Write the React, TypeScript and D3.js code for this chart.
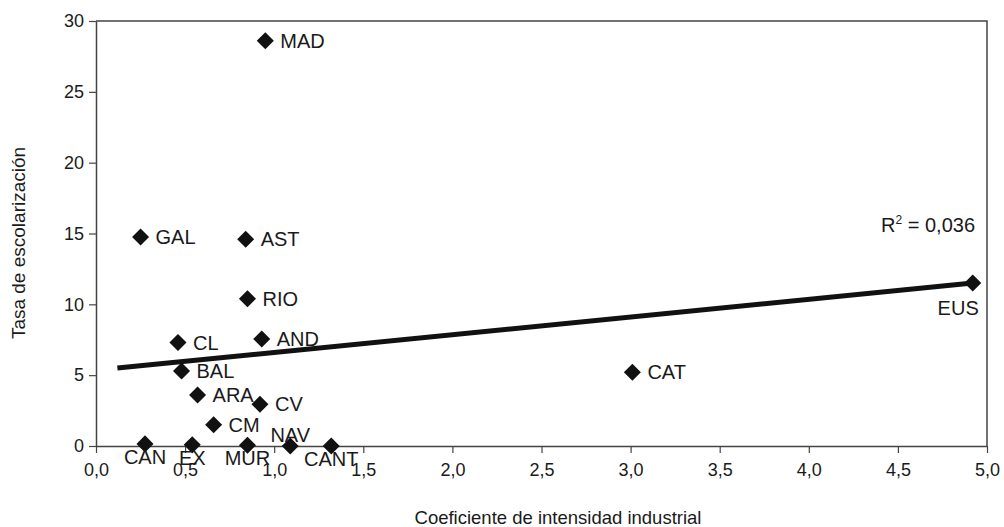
import React, { useEffect, useRef } from 'react';
import * as d3 from 'd3';

const regions = ['MAD', 'GAL', 'AST', 'RIO', 'CL', 'AND', 'BAL', 'ARA', 'CV', 'CM', 'CAN', 'EX', 'MUR', 'NAV', 'CANT', 'CAT', 'EUS'];
const intensidad = [0.95, 0.25, 0.84, 0.85, 0.46, 0.93, 0.48, 0.57, 0.92, 0.66, 0.275, 0.54, 0.85, 1.09, 1.32, 3.01, 4.92];
const escolarizacion = [28.6, 14.75, 14.6, 10.4, 7.3, 7.55, 5.3, 3.6, 2.95, 1.5, 0.15, 0.08, 0.05, 0.0, 0.0, 5.2, 11.5];
// where each label sits relative to its marker
const labelPos = ['right', 'right', 'right', 'right', 'right', 'right', 'right', 'right', 'right', 'right', 'below', 'below', 'below', 'above', 'below', 'right', 'belowLeft'];

const trendX = [0.12, 4.92];
const trendY = [5.5, 11.5];

const xTicks = [0, 0.5, 1, 1.5, 2, 2.5, 3, 3.5, 4, 4.5, 5];
const yTicks = [0, 5, 10, 15, 20, 25, 30];

const W = 1004;
const H = 527;
const margin = { left: 96, right: 17, top: 21, bottom: 81 };

export default function App() {
  const ref = useRef<SVGSVGElement>(null);

  useEffect(() => {
    const svg = d3.select(ref.current);
    svg.selectAll('*').remove();
    const width = W - margin.left - margin.right;
    const height = H - margin.top - margin.bottom;
    const font = 'Liberation Sans, Arial, sans-serif';
    const ink = '#1a1a1a';

    const x = d3.scaleLinear().domain([0, 5]).range([0, width]);
    const y = d3.scaleLinear().domain([0, 30]).range([height, 0]);

    const g = svg.append('g').attr('transform', `translate(${margin.left},${margin.top})`);

    // frame top / right
    g.append('path')
      .attr('d', `M0,0H${width}V${height}`)
      .attr('fill', 'none')
      .attr('stroke', '#444')
      .attr('stroke-width', 1.5);

    const xAxis = g
      .append('g')
      .attr('transform', `translate(0,${height})`)
      .call(d3.axisBottom(x).tickValues(xTicks).tickSize(7).tickSizeOuter(0).tickFormat(d => d3.format('.1f')(d as number).replace('.', ',')));
    const yAxis = g
      .append('g')
      .call(d3.axisLeft(y).tickValues(yTicks).tickSize(7).tickSizeOuter(0));
    [xAxis, yAxis].forEach(a => {
      a.select('.domain').attr('stroke', '#444').attr('stroke-width', 1.5);
      a.selectAll('.tick line').attr('stroke', '#444').attr('stroke-width', 1.2);
      a.selectAll('.tick text').attr('fill', ink).style('font-family', font).style('font-size', '18px');
    });
    xAxis.selectAll('.tick text').attr('dy', '1.1em');
    yAxis.selectAll('.tick text').attr('x', -12);

    // trend line
    g.append('line')
      .attr('x1', x(trendX[0]))
      .attr('y1', y(trendY[0]))
      .attr('x2', x(trendX[1]))
      .attr('y2', y(trendY[1]))
      .attr('stroke', '#111')
      .attr('stroke-width', 5);

    const data = regions.map((r, i) => ({ r, x: intensidad[i], y: escolarizacion[i], pos: labelPos[i] }));
    const diamond = d3.symbol().type(d3.symbolSquare).size(145);

    g.selectAll('path.pt')
      .data(data)
      .enter()
      .append('path')
      .attr('class', 'pt')
      .attr('d', diamond)
      .attr('transform', d => `translate(${x(d.x)},${y(d.y)}) rotate(45)`)
      .attr('fill', '#111');

    g.selectAll('text.lbl')
      .data(data)
      .enter()
      .append('text')
      .attr('class', 'lbl')
      .style('font-family', font)
      .style('font-size', '20px')
      .attr('fill', ink)
      .attr('text-anchor', d => (d.pos === 'right' ? 'start' : d.pos === 'belowLeft' ? 'end' : 'middle'))
      .attr('x', d => {
        const px = x(d.x);
        if (d.pos === 'right') return px + 15;
        if (d.pos === 'belowLeft') return px + 6;
        return px;
      })
      .attr('y', d => {
        const py = y(d.y);
        if (d.pos === 'right') return py + 7;
        if (d.pos === 'above') return py - 4;
        if (d.pos === 'belowLeft') return py + 32;
        return py + 20;
      })
      .text(d => d.r);

    g.append('text')
      .attr('x', width - 12)
      .attr('y', y(15) - 2)
      .attr('text-anchor', 'end')
      .style('font-family', font)
      .style('font-size', '20px')
      .attr('fill', ink)
      .html('R<tspan dy="-8" font-size="12px">2</tspan><tspan dy="8"> = 0,036</tspan>');

    // axis titles
    g.append('text')
      .attr('x', 462)
      .attr('y', height + 78)
      .attr('text-anchor', 'middle')
      .style('font-family', font)
      .style('font-size', '18.5px')
      .attr('fill', ink)
      .text('Coeficiente de intensidad industrial');
    g.append('text')
      .attr('transform', `translate(${-71},${222}) rotate(-90)`)
      .attr('text-anchor', 'middle')
      .style('font-family', font)
      .style('font-size', '19px')
      .attr('fill', ink)
      .text('Tasa de escolarización');
  }, []);

  return (
    <svg
      ref={ref}
      width={W}
      height={H}
      style={{ position: 'absolute', left: 0, top: 0, background: '#fff' }}
    />
  );
}
